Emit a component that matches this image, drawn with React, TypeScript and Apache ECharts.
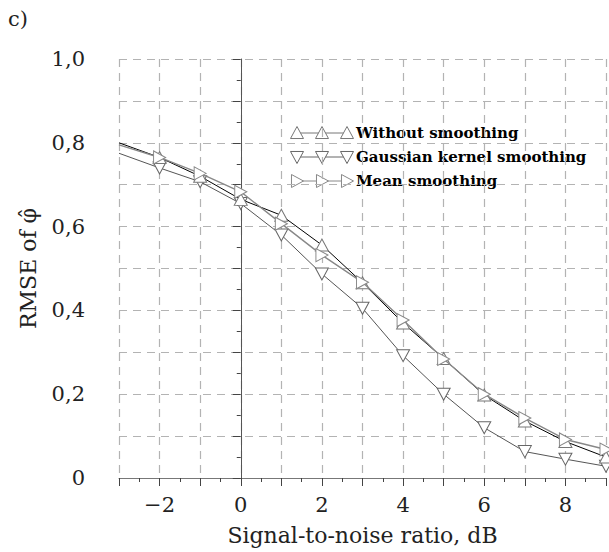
import React, { useEffect, useRef } from "react";
import * as echarts from "echarts";

const snr = [-3, -2, -1, 0, 1, 2, 3, 4, 5, 6, 7, 8, 9];
const withoutSmoothing = [0.8, 0.765, 0.72, 0.665, 0.627, 0.556, 0.466, 0.37, 0.285, 0.198, 0.136, 0.087, 0.05];
const gaussianSmoothing = [0.775, 0.74, 0.707, 0.655, 0.58, 0.487, 0.405, 0.292, 0.2, 0.12, 0.063, 0.045, 0.028];
const meanSmoothing = [0.795, 0.765, 0.727, 0.683, 0.607, 0.532, 0.467, 0.377, 0.284, 0.2, 0.143, 0.092, 0.068];
const seriesNames = ["Without smoothing", "Gaussian kernel smoothing", "Mean smoothing"];
const yTickLabels = ["0", "0,2", "0,4", "0,6", "0,8", "1,0"];

const FONT = "DejaVu Serif";

function toData(vals: number[]) {
  return snr.map((x, i) =>
    i === 0 ? { value: [x, vals[i]], symbol: "none" } : { value: [x, vals[i]] }
  );
}

function triPoints(cx: number, cy: number, dir: string) {
  const h = 6.5;
  if (dir === "up") return [[cx - h, cy + h * 0.85], [cx + h, cy + h * 0.85], [cx, cy - h]];
  if (dir === "down") return [[cx - h, cy - h * 0.85], [cx + h, cy - h * 0.85], [cx, cy + h]];
  return [[cx - h * 0.85, cy - h], [cx - h * 0.85, cy + h], [cx + h, cy]];
}

function legendRow(cy: number, dir: string, color: string, label: string) {
  const xs = [297, 322, 347];
  const children: any[] = [];
  children.push({
    type: "line",
    shape: { x1: xs[0], y1: cy, x2: xs[2], y2: cy },
    style: { stroke: color, lineWidth: 1 },
  });
  xs.forEach((x) => {
    children.push({
      type: "polygon",
      shape: { points: triPoints(x, cy, dir) },
      style: { fill: "#fff", stroke: color, lineWidth: 1 },
    });
  });
  children.push({
    type: "text",
    x: 356,
    y: cy,
    style: {
      text: label,
      font: `bold 15px "${FONT}"`,
      fill: "#000",
      verticalAlign: "middle",
      align: "left",
    },
  });
  return { type: "group", children };
}

export default function App() {
  const ref = useRef<HTMLDivElement>(null);
  useEffect(() => {
    if (!ref.current) return;
    const chart = echarts.init(ref.current, undefined, { renderer: "svg" });
    const gridLine = { show: true, lineStyle: { color: "#b3b3b3", width: 1.2, type: [8, 6] as any } };
    const option: any = {
      animation: false,
      backgroundColor: "#fff",
      grid: { left: 119, right: 0, top: 59, bottom: 74 },
      xAxis: {
        type: "value",
        min: -3,
        max: 9,
        interval: 1,
        name: "Signal-to-noise ratio, dB",
        nameLocation: "middle",
        nameGap: 46,
        nameTextStyle: { fontFamily: FONT, fontSize: 22, color: "#222" },
        axisLine: { show: true, onZero: false, lineStyle: { color: "#777", width: 1 } },
        axisTick: { show: true, length: 8, lineStyle: { color: "#444" } },
        minorTick: { show: true, splitNumber: 2, length: 4, lineStyle: { color: "#444" } },
        axisLabel: {
          margin: 16,
          fontFamily: FONT,
          fontSize: 21,
          color: "#222",
          formatter: (v: number) => (v % 2 === 0 ? (v < 0 ? "\u2212" + Math.abs(v) : String(v)) : ""),
        },
        splitLine: gridLine,
      },
      yAxis: {
        type: "value",
        min: 0,
        max: 1,
        interval: 0.1,
        name: "RMSE of \u03C6\u0302",
        nameLocation: "middle",
        nameGap: 80,
        nameTextStyle: { fontFamily: FONT, fontSize: 22, color: "#222" },
        axisLine: { show: true, lineStyle: { color: "#555", width: 1 } },
        axisTick: { show: true, length: 8, lineStyle: { color: "#444" } },
        minorTick: { show: true, splitNumber: 2, length: 4, lineStyle: { color: "#444" } },
        axisLabel: {
          margin: 34,
          fontFamily: FONT,
          fontSize: 21,
          color: "#222",
          formatter: (v: number) => {
            const idx = Math.round(v * 10);
            return idx % 2 === 0 ? yTickLabels[idx / 2] : "";
          },
        },
        splitLine: gridLine,
      },
      series: [
        {
          name: seriesNames[0],
          type: "line",
          data: toData(withoutSmoothing),
          symbol: "triangle",
          symbolSize: [13, 12],
          lineStyle: { color: "#000", width: 1 },
          itemStyle: { color: "#fff", borderColor: "#777", borderWidth: 1 },
          z: 3,
        },
        {
          name: seriesNames[1],
          type: "line",
          data: toData(gaussianSmoothing),
          symbol: "triangle",
          symbolRotate: 180,
          symbolSize: [13, 12],
          lineStyle: { color: "#555", width: 1 },
          itemStyle: { color: "#fff", borderColor: "#666", borderWidth: 1 },
          z: 2,
        },
        {
          name: seriesNames[2],
          type: "line",
          data: toData(meanSmoothing),
          symbol: "triangle",
          symbolRotate: -90,
          symbolSize: [13, 12],
          lineStyle: { color: "#888", width: 1.4 },
          itemStyle: { color: "#fff", borderColor: "#888", borderWidth: 1 },
          z: 4,
        },
      ],
      graphic: [
        {
          type: "text",
          left: 8,
          top: 8,
          style: { text: "c)", font: `21px "${FONT}"`, fill: "#222" },
        },
        legendRow(133, "up", "#777", seriesNames[0]),
        legendRow(157, "down", "#666", seriesNames[1]),
        legendRow(181, "right", "#888", seriesNames[2]),
      ],
    };
    chart.setOption(option);
    return () => chart.dispose();
  }, []);
  return (
    <div
      ref={ref}
      style={{ position: "fixed", left: 0, top: 0, width: 609, height: 552 }}
    />
  );
}
